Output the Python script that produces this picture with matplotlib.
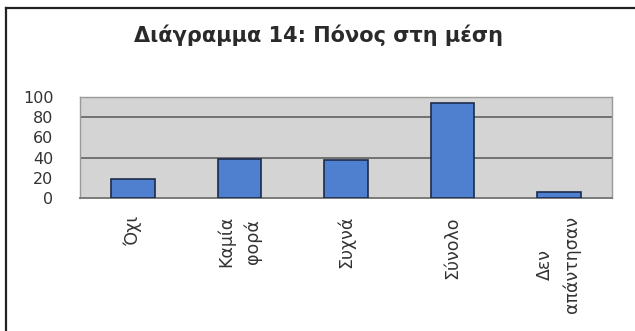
import matplotlib
matplotlib.use("Agg")
import matplotlib.pyplot as plt
from matplotlib.lines import Line2D

plt.rcParams['font.family'] = ['DejaVu Sans']

categories = ["Όχι", "Καμία\nφορά", "Συχνά", "Σύνολο", "Δεν\nαπάντησαν"]
values = [19, 39, 38, 94, 6]
yticks = [0, 20, 40, 60, 80, 100]
title = "Διάγραμμα 14: Πόνος στη μέση"

W, H = 635, 331
fig = plt.figure(figsize=(W / 100, H / 100), dpi=100)
fig.patch.set_facecolor("white")

# outer frame (only left and top edges visible in the crop)
fig.add_artist(Line2D([6 / W, 6 / W], [0, 1 - 8 / H], transform=fig.transFigure,
                      color="#222222", lw=1.6))
fig.add_artist(Line2D([6 / W, 1], [1 - 8 / H, 1 - 8 / H], transform=fig.transFigure,
                      color="#222222", lw=1.6))

fig.text(318 / W, 1 - 35 / H, title, ha="center", va="center",
         fontsize=15, fontweight="bold", color="#2a2a2a")

ax = fig.add_axes([80 / W, 1 - 198 / H, 532 / W, 101 / H])
ax.set_facecolor("#d4d4d4")
x = list(range(len(categories)))
ax.bar(x, values, width=0.41, color="#4f7fcf", edgecolor="#1c2c4c", linewidth=1.2, zorder=3)
ax.set_xlim(-0.5, len(categories) - 0.5)
ax.set_ylim(0, 100)

for g in [40, 80]:
    ax.axhline(g, color="#6a6a6a", lw=1.3, zorder=1)

ax.set_yticks(yticks)
ax.set_yticklabels([str(t) for t in yticks], fontsize=11.5, color="#333333")
ax.tick_params(axis="y", length=0, pad=19)
ax.set_xticks(x)
ax.set_xticklabels(categories, rotation=90, fontsize=12.5, color="#333333",
                   va="top", ha="center", multialignment="center",
                   linespacing=1.6)
ax.tick_params(axis="x", length=0, pad=13)

for side in ["top", "right", "left"]:
    ax.spines[side].set_color("#9a9a9a")
    ax.spines[side].set_linewidth(1.0)
ax.spines["bottom"].set_color("#7a7a7a")
ax.spines["bottom"].set_linewidth(1.4)

fig.savefig("out.png", dpi=100)
